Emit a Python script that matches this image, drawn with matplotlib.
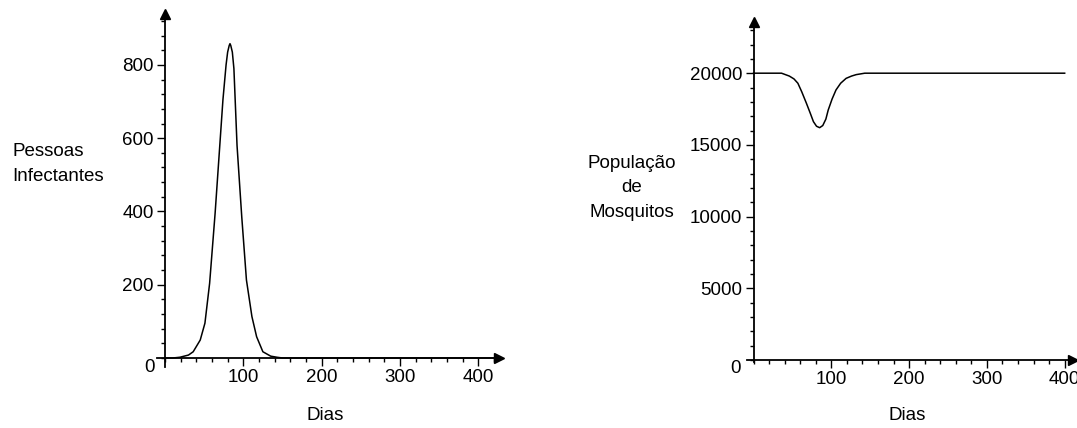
import numpy as np
import matplotlib
matplotlib.use('Agg')
import matplotlib.pyplot as plt
from matplotlib.ticker import MultipleLocator, FixedLocator

plt.rcParams['font.family'] = ['Liberation Sans', 'DejaVu Sans']

# pessoas infectantes
diasI = [0, 10, 19, 30, 36, 45, 51, 57, 64, 69, 74, 78, 80, 82, 83, 84, 86, 88, 92, 98, 104, 111, 117, 125, 135, 143, 150, 420]
infectantes = [0, 0, 2, 8, 17, 49, 95, 204, 395, 550, 705, 800, 835, 853, 858, 853, 835, 790, 580, 386, 213, 113, 58, 17, 5, 2, 0, 0]

# populacao de mosquitos
diasM = [0, 36, 46, 52, 57, 62, 68, 73, 77, 81, 85, 89, 93, 96, 101, 106, 112, 119, 126, 132, 143, 400]
mosquitos = [20000, 20000, 19800, 19600, 19300, 18700, 17900, 17200, 16620, 16300, 16200, 16350, 16800,
             17430, 18200, 18830, 19300, 19640, 19800, 19900, 20000, 20000]

xticksI = [100, 200, 300, 400]
yticksI = [200, 400, 600, 800]
xticksM = [100, 200, 300, 400]
yticksM = [5000, 10000, 15000, 20000]

W, H = 1077, 428
fs = 13.5
fig = plt.figure(figsize=(W / 100, H / 100), dpi=100)

def eixos(ax, xmin, xmax, ymin, ymax, xt, yt, xminor, yminor):
    # eixos estilo maple, cruzando na origem com setas
    ax.set_xlim(xmin, xmax)
    ax.set_ylim(ymin, ymax)
    for s in ['top', 'right']:
        ax.spines[s].set_visible(False)
    ax.spines['left'].set_position(('data', 0))
    ax.spines['bottom'].set_position(('data', 0))
    ax.spines['left'].set_linewidth(1.3)
    ax.spines['bottom'].set_linewidth(1.3)
    ax.xaxis.set_major_locator(FixedLocator(xt))
    ax.yaxis.set_major_locator(FixedLocator(yt))
    ax.xaxis.set_minor_locator(MultipleLocator(xminor))
    ax.yaxis.set_minor_locator(MultipleLocator(yminor))
    ax.tick_params(which='major', direction='out', length=6, width=1, labelsize=fs, pad=2)
    ax.tick_params(which='minor', direction='out', length=3, width=1)
    ax.patch.set_visible(False)
    ax.plot([0], [1], marker='^', color='black', markersize=7,
            transform=ax.get_xaxis_transform(), clip_on=False)
    ax.plot([1], [0], marker='>', color='black', markersize=7,
            transform=ax.get_yaxis_transform(), clip_on=False)

# grafico 1
ax1 = fig.add_axes([157 / W, 61 / H, 342 / W, 353 / H])
eixos(ax1, -10.2, 426.5, -24.6, 939, xticksI, yticksI, 20, 40)
ax1.plot(diasI, infectantes, color='black', linewidth=1.1)
ax1.annotate('0', xy=(0, 0), xytext=(-15, -10), textcoords='offset pixels',
             ha='center', va='center', fontsize=fs)
fig.text(12 / W, 1 - 164 / H, 'Pessoas\nInfectantes', ha='left', va='center',
         fontsize=fs, linespacing=1.55)
fig.text(325 / W, 1 - 415 / H, 'Dias', ha='center', va='center', fontsize=fs)

# grafico 2
ax2 = fig.add_axes([747 / W, 66 / H, 326 / W, 340 / H])
eixos(ax2, -8.4, 410.7, -140, 23570, xticksM, yticksM, 20, 1000)
ax2.plot(diasM, mosquitos, color='black', linewidth=1.1)
ax2.annotate('0', xy=(0, 0), xytext=(-18, -9), textcoords='offset pixels',
             ha='center', va='center', fontsize=fs)
fig.text(632 / W, 1 - 188 / H, 'População\nde\nMosquitos', ha='center', va='center',
         fontsize=fs, linespacing=1.55)
fig.text(907 / W, 1 - 416 / H, 'Dias', ha='center', va='center', fontsize=fs)

fig.savefig('out.png', dpi=100)
